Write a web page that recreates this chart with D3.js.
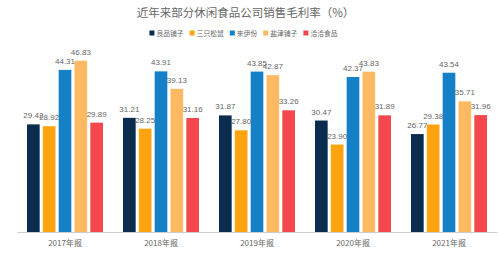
<!DOCTYPE html>
<html><head><meta charset="utf-8">
<script src="https://cdn.jsdelivr.net/npm/d3@7"></script>
<style>html,body{margin:0;padding:0;background:#fff;}</style>
</head><body>
<svg id="c" width="500" height="258"></svg>
<script>
const years = ["2017年报","2018年报","2019年报","2020年报","2021年报"];
const seriesNames = ["良品铺子","三只松鼠","来伊份","盐津铺子","洽洽食品"];
const colors = ["#0b2b4f","#ffa30f","#1480c8","#ffb963","#f4474e"];
const liangpin = [29.42,31.21,31.87,30.47,26.77];
const sanzhi = [28.92,28.25,27.80,23.90,29.38];
const laiyifen = [44.31,43.91,43.85,42.37,43.54];
const yanjin = [46.83,39.13,42.87,43.83,35.71];
const qiaqia = [29.89,31.16,33.26,31.89,31.96];
const values = [liangpin,sanzhi,laiyifen,yanjin,qiaqia];
const title = "近年来部分休闲食品公司销售毛利率（%）";

const svg = d3.select("#c");
const font = "'Noto Sans CJK SC','Liberation Sans',sans-serif";
const x0 = d3.scaleBand().domain(years).range([17,497]).paddingInner(0.208).paddingOuter(0.104);
const x1 = d3.scaleBand().domain(seriesNames).range([0,x0.bandwidth()]).paddingInner(0.2).paddingOuter(0);
const y = d3.scaleLinear().domain([0,60]).range([232,12.5]);

svg.append("text").attr("x",245.5).attr("y",17).attr("text-anchor","middle")
  .attr("font-family",font).attr("font-size",11.5).attr("fill","#666").text(title);

// legend
const lg = svg.append("g").attr("font-family",font).attr("font-size",6.8).attr("fill","#666");
let lx = 0;
seriesNames.forEach((s,i)=>{
  const g = lg.append("g").attr("transform",`translate(${lx},0)`);
  g.append("rect").attr("x",0).attr("y",30.5).attr("width",5).attr("height",5).attr("fill",colors[i]);
  const t = g.append("text").attr("x",7).attr("y",35.5).text(s);
  const w = t.node().getComputedTextLength();
  lx += 7 + w + 6;
});
lx -= 6;
lg.attr("transform",`translate(${243.5 - lx/2},0)`);

const groups = svg.append("g").selectAll("g").data(years).join("g")
  .attr("transform",d=>`translate(${x0(d)},0)`);
groups.selectAll("rect").data((d,yi)=>seriesNames.map((s,si)=>({s,si,v:values[si][yi]})))
  .join("rect").attr("x",d=>x1(d.s)).attr("width",x1.bandwidth())
  .attr("y",d=>y(d.v)).attr("height",d=>y(0)-y(d.v)).attr("fill",d=>colors[d.si]);
groups.selectAll("text").data((d,yi)=>seriesNames.map((s,si)=>({s,si,v:values[si][yi]})))
  .join("text").attr("x",d=>x1(d.s)+x1.bandwidth()/2).attr("y",d=>y(d.v)-6)
  .attr("text-anchor","middle").attr("font-family","'Liberation Sans',sans-serif").attr("font-size",8)
  .attr("fill","#666").text(d=>d.v.toFixed(2));

const ax = svg.append("g").attr("transform","translate(0,232)")
  .call(d3.axisBottom(x0).tickSize(0).tickPadding(8));
ax.select(".domain").attr("stroke","#ccc").attr("stroke-width",1);
ax.selectAll("text").attr("font-family",font).attr("font-size",8).attr("fill","#666");
</script>
</body></html>
